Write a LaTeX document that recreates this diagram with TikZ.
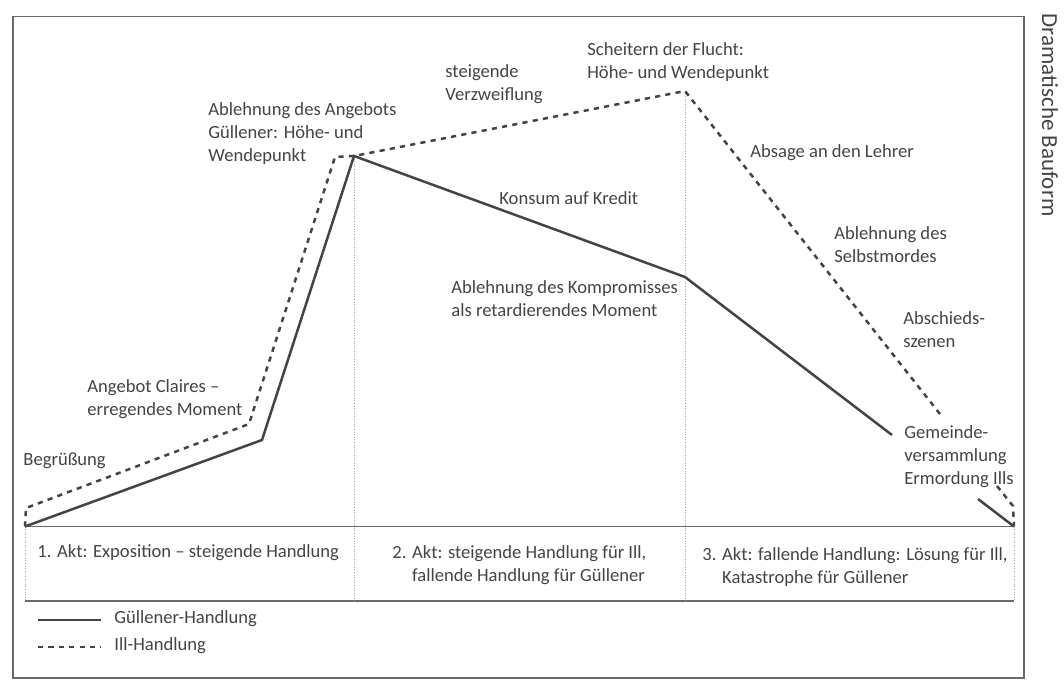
\documentclass[tikz,border=0pt]{standalone}
\usepackage{fontspec}
\setmainfont{Carlito}
\usetikzlibrary{positioning}
\definecolor{ink}{HTML}{444444}
\definecolor{rule}{HTML}{6A6A6A}

\begin{document}
\begin{tikzpicture}[x=0.5pt, y=-0.5pt,
    lbl/.style={anchor=west, align=left, inner sep=0pt, text=ink, font=\fontsize{9.3}{11.5}\selectfont},
    gline/.style={draw=ink, line width=1.25pt},
    iline/.style={draw=ink, line width=1.25pt, dash pattern=on 2.6pt off 2.6pt},
    divider/.style={draw=gray!70, line width=0.3pt, densely dotted},
    rulebar/.style={draw=rule, line width=0.6pt}]
    \useasboundingbox (0, 0) rectangle (1064, 680);

    % Rahmen
    \draw[rulebar] (13, 16.5) rectangle (1024, 678);
    \node[lbl, anchor=center, rotate=-90, font=\fontsize{11.5}{13}\selectfont] (titel) at (1050, 115) {Dramatische Bauform};

    % Punkte
    \coordinate (g0) at (25, 526.5);
    \coordinate (g1) at (262, 440);
    \coordinate (g2) at (354, 156);
    \coordinate (g3) at (685, 277);
    \coordinate (g4) at (892, 435);
    \coordinate (g5) at (978, 499);
    \coordinate (g6) at (1014, 526.5);
    \coordinate (i1) at (26, 508);
    \coordinate (i2) at (249, 424);
    \coordinate (i3) at (335, 157);
    \coordinate (i5) at (685, 91);
    \coordinate (i6a) at (940, 414);
    \coordinate (i6b) at (997, 486);
    \coordinate (i6) at (1013, 506);
    \coordinate (b1) at (25, 601);
    \coordinate (b2) at (1014, 601);
    \coordinate (d1) at (354, 601);
    \coordinate (d2) at (685, 601);

    % Akte
    \draw[rulebar] (g0) -- (g6);
    \draw[rulebar] (b1) -- (b2);
    \draw[divider] (g0) -- (b1);
    \draw[divider] (g6) -- (b2);
    \draw[divider] (g2) -- (d1);
    \draw[divider] (i5) -- (d2);
    \node[lbl] (akt1) at (37, 553) {1. Akt: Exposition -- steigende Handlung};
    \node[lbl] (akt2) at (392, 565) {2. Akt: steigende Handlung für Ill,\\\hphantom{2. }fallende Handlung für Güllener};
    \node[lbl] (akt3) at (702, 567) {3. Akt: fallende Handlung: Lösung für Ill,\\\hphantom{3. }Katastrophe für Güllener};

    % Handlung
    \draw[gline] (g0) -- (g1) -- (g2) -- (g3) -- (g4);
    \draw[gline] (g5) -- (g6);
    \draw[iline] (g0) -- (i1) -- (i2) -- (i3) -- (g2) -- (i5) -- (i6a);
    \draw[iline] (i6b) -- (i6) -- (g6);

    \node[lbl] (angebot) at (208, 134) {Ablehnung des Angebots\\Güllener: Höhe- und\\Wendepunkt};
    \node[lbl] (verzweiflung) at (445, 84) {steigende\\Verzweiflung};
    \node[lbl] (flucht) at (587, 62) {Scheitern der Flucht:\\Höhe- und Wendepunkt};
    \node[lbl] (konsum) at (499, 198) {Konsum auf Kredit};
    \node[lbl] (lehrer) at (750, 153) {Absage an den Lehrer};
    \node[lbl] (selbstmord) at (834, 245) {Ablehnung des\\Selbstmordes};
    \node[lbl] (abschied) at (903, 330) {Abschieds-\\szenen};
    \node[lbl] (gemeinde) at (904, 457) {Gemeinde-\\versammlung\\Ermordung Ills};
    \node[lbl] (kompromiss) at (451, 299) {Ablehnung des Kompromisses\\als retardierendes Moment};
    \node[lbl] (claire) at (87, 399) {Angebot Claires --\\erregendes Moment};
    \node[lbl] (gruss) at (23, 461) {Begrüßung};

    % Legende
    \coordinate (la) at (38, 620);
    \coordinate (lb) at (101, 620);
    \coordinate (lc) at (38, 647);
    \coordinate (ld) at (101, 647);
    \draw[gline] (la) -- (lb);
    \draw[iline] (lc) -- (ld);
    \node[lbl] (leg1) at (114, 619) {Güllener-Handlung};
    \node[lbl] (leg2) at (114, 646) {Ill-Handlung};
\end{tikzpicture}
\end{document}
